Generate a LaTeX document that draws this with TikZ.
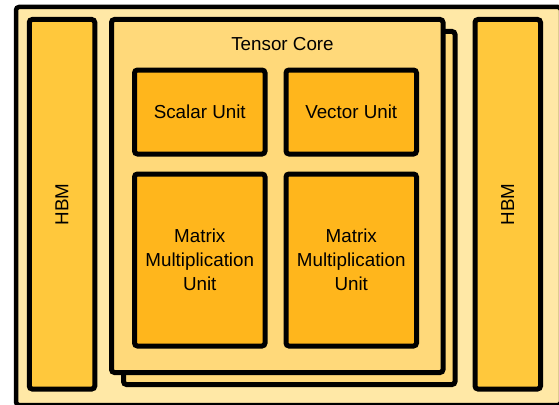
\documentclass[tikz,border=0pt]{standalone}
\usepackage{fontspec}
\usepackage{graphicx}
\setmainfont{Liberation Sans}
\definecolor{chipbg}{HTML}{FFE8A6}
\definecolor{hbmfill}{HTML}{FFC83C}
\definecolor{corefill}{HTML}{FFD97A}
\definecolor{unitfill}{HTML}{FFB61C}
\begin{document}
\begin{tikzpicture}
  [x=1pt,y=-1pt,
   every node/.style={font=\fontsize{18.8}{24}\selectfont,align=center,inner sep=0pt},
   box/.style={draw,line width=5pt,rounded corners=3pt},
   hbm/.style={box,fill=hbmfill,minimum width=65.5pt,minimum height=369.5pt},
   core/.style={box,fill=corefill,minimum width=331.5pt,minimum height=353pt},
   unit/.style={box,fill=unitfill,minimum width=130.5pt}]
  \useasboundingbox (0,0) rectangle (559,404);
  \clip (0,0) rectangle (559,404);
  % chip outline
  \draw[fill=chipbg,line width=4.5pt,rounded corners=3pt] (16,7) rectangle (561,405);
  \node[hbm] (hbmL) at (62,204.25)    {\rotatebox{90}{HBM}};
  \node[hbm] (hbmR) at (507.75,204.25) {\rotatebox{90}{HBM}};
  % two tensor cores, one behind the other
  \node[core] (coreB) at (289.25,208) {};
  \node[core] (coreF) at (277.25,196) {};
  \node (title) at (282.5,44) {Tensor Core};
  \node[unit,minimum height=84pt]  (scalar) at (199.75,112) {Scalar Unit};
  \node[unit,minimum height=84pt]  (vector) at (351.25,112) {Vector Unit};
  \node[unit,minimum height=172pt] (mxuL)   at (199.75,260) {Matrix\\Multiplication\\Unit};
  \node[unit,minimum height=172pt] (mxuR)   at (351.25,260) {Matrix\\Multiplication\\Unit};
\end{tikzpicture}
\end{document}
